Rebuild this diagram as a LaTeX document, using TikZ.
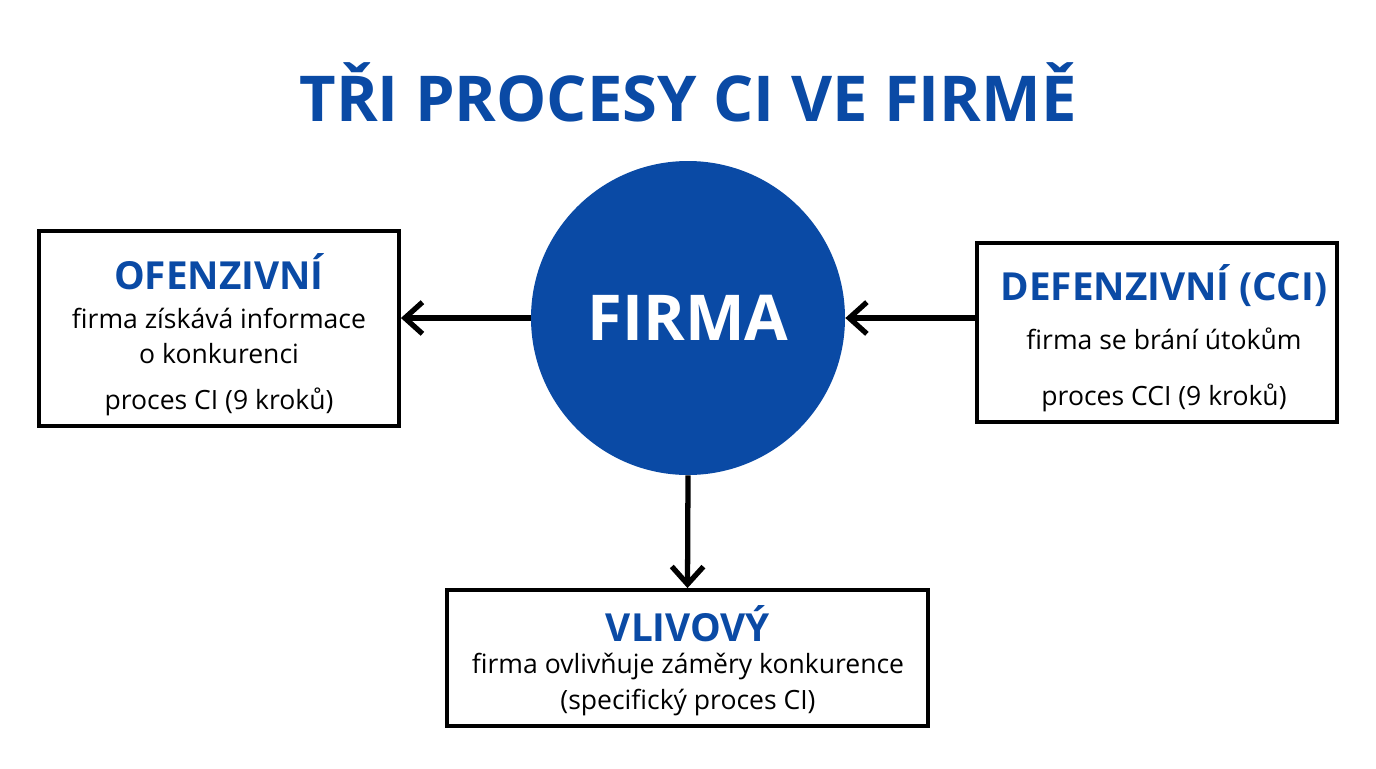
\documentclass[tikz,border=0pt]{standalone}
\usepackage{fontspec}
\setmainfont{Open Sans}
\usetikzlibrary{arrows.meta}
\definecolor{cblue}{HTML}{0A4AA5}
\begin{document}
\begin{tikzpicture}[x=0.02cm,y=-0.02cm,
  box/.style={draw=black,line width=2.2pt},
  ttl/.style={text=cblue,font=\bfseries\fontsize{22}{25}\selectfont},
  txt/.style={font=\fontsize{15.1}{18}\selectfont},
  arr/.style={line width=3pt,-{Straight Barb[length=10pt,width=18pt,line width=3pt]}}]
\useasboundingbox (0,0) rectangle (1376,768);
\node[text=cblue,font=\bfseries\fontsize{36}{42}\selectfont] (title) at (688,92) {TŘI PROCESY CI VE FIRMĚ};
\node[circle,fill=cblue,minimum size=314*0.02cm,inner sep=0] (firma) at (688,318) {};
\node[text=white,font=\bfseries\fontsize{36}{40}\selectfont] (ftext) at (688,318) {FIRMA};
\node[box,minimum width=360*0.02cm,minimum height=195*0.02cm] (left) at (219,328.5) {};
\node[ttl] (lt) at (219,272) {OFENZIVNÍ};
\node[txt] (l1) at (219,318) {firma získává informace};
\node[txt] (l2) at (219,354) {o konkurenci};
\node[txt] (l3) at (219,402) {proces CI (9 kroků)};
\node[box,minimum width=360*0.02cm,minimum height=179*0.02cm] (right) at (1157,332.5) {};
\node[ttl] (rt) at (1164,286) {DEFENZIVNÍ (CCI)};
\node[txt] (r1) at (1164,339) {firma se brání útokům};
\node[txt] (r2) at (1164,398) {proces CCI (9 kroků)};
\node[box,minimum width=481*0.02cm,minimum height=136*0.02cm] (bot) at (687.5,658) {};
\node[ttl] (bt) at (688,624) {VLIVOVÝ};
\node[txt] (b1) at (688,667) {firma ovlivňuje záměry konkurence};
\node[txt] (b2) at (688,703) {(specifický proces CI)};
\draw[arr] (firma.west) -- (left.east |- firma.west);
\draw[arr] (right.west |- firma.east) -- (firma.east);
\draw[arr] (firma.south) -- (bot.north);
\end{tikzpicture}
\end{document}
